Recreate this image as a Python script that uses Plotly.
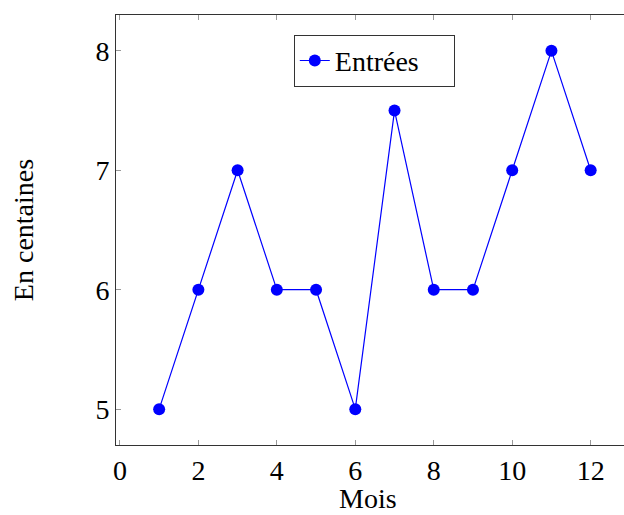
import plotly.graph_objects as go

mois = [1, 2, 3, 4, 5, 6, 7, 8, 9, 10, 11, 12]
entrees = [5, 6, 7, 6, 6, 5, 7.5, 6, 6, 7, 8, 7]
x_ticks = [0, 2, 4, 6, 8, 10, 12]
y_ticks = [5, 6, 7, 8]

font_family = "Liberation Serif"
fs = 28

fig = go.Figure()
fig.add_trace(go.Scatter(
    x=mois, y=entrees, mode="lines+markers", name="Entrées",
    line=dict(color="#0000ff", width=1.2),
    marker=dict(color="#0000ff", size=12, symbol="circle"),
))

fig.update_layout(
    width=624, height=515,
    margin=dict(l=116, r=0, t=14.5, b=70),
    paper_bgcolor="white", plot_bgcolor="white",
    font=dict(family=font_family, size=fs, color="black"),
    showlegend=True,
    legend=dict(
        orientation="h",
        x=0.350, y=0.954, xanchor="left", yanchor="top",
        bordercolor="#333333", borderwidth=1, bgcolor="white",
        font=dict(family=font_family, size=fs),
        itemwidth=30, entrywidth=114, entrywidthmode="pixels",
    ),
    annotations=[dict(
        text="Mois", xref="paper", yref="paper", x=0.497, y=-0.124,
        xanchor="center", yanchor="middle", showarrow=False,
        font=dict(family=font_family, size=fs, color="black"),
    )],
)
fig.update_xaxes(
    range=[-0.1, 12.85], tickvals=x_ticks, ticks="inside", ticklen=5,
    tickcolor="#999999", showline=True, linecolor="#333333", linewidth=1,
    mirror="ticks", showgrid=False, zeroline=False, automargin=False,
    tickfont=dict(size=fs),
)
fig.update_yaxes(
    range=[4.7, 8.3], tickvals=y_ticks, ticks="inside", ticklen=5,
    tickcolor="#999999", showline=True, linecolor="#333333", linewidth=1,
    showgrid=False, zeroline=False, automargin=False,
    title=dict(text="En centaines", standoff=53, font=dict(size=fs)),
    tickfont=dict(size=fs),
)

fig.write_html(
    "out.html",
    config={"displayModeBar": False},
    post_script="document.body.style.margin='0';document.body.style.overflow='hidden';",
)
